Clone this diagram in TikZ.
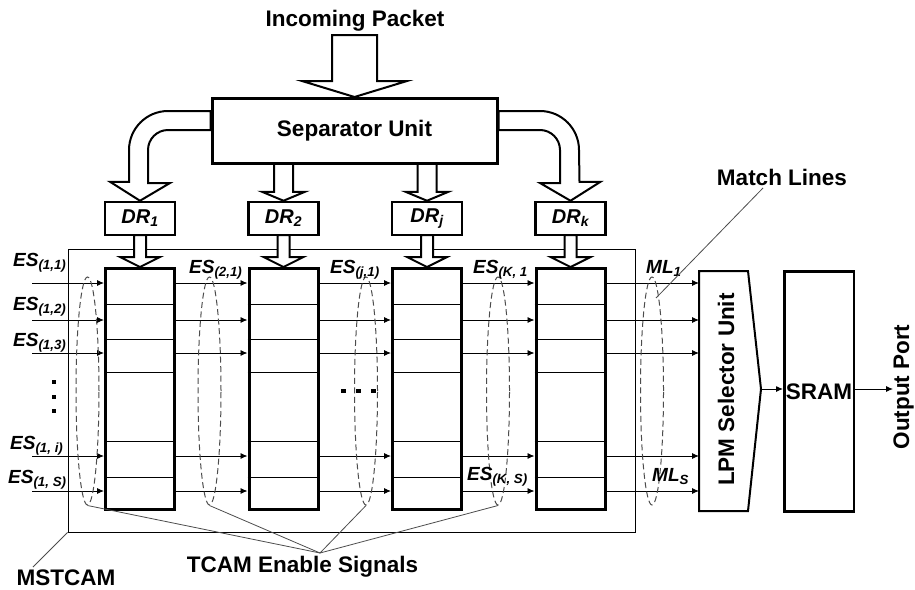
\documentclass[tikz,border=0pt]{standalone}
\usepackage{fontspec}
\setmainfont{Liberation Sans}
\usetikzlibrary{arrows.meta,shapes.geometric}

\tikzset{
  lbl/.style={font=\fontsize{22.5}{27}\selectfont\bfseries, inner sep=0pt},
  idx/.style={font=\fontsize{19}{22}\selectfont\bfseries\itshape, inner sep=0pt, anchor=base west},
  blk/.style={draw, line width=3pt, minimum width=69pt, minimum height=241pt, inner sep=0pt},
  drbox/.style={draw, line width=2.5pt, minimum width=70pt, minimum height=33pt, inner sep=0pt,
    font=\fontsize{20}{24}\selectfont\bfseries\itshape},
  hollow/.style={draw, line width=2pt, fill=white, line join=miter},
  grp/.style={draw=black!70, dash pattern=on 6pt off 3.5pt, line width=1pt, ellipse,
    minimum width=23pt, minimum height=228pt, inner sep=0pt},
  sig/.style={->, line width=0.9pt},
  pointer/.style={draw=black!70, line width=0.8pt}
}

\begin{document}
\begin{tikzpicture}[x=1pt, y=-1pt, >={Latex[length=7pt,width=6pt]}]
\useasboundingbox (0,0) rectangle (915,589);

\node[draw, line width=0.9pt, minimum width=567pt, minimum height=283pt, inner sep=0pt] (mstc) at (351.5,390.5) {};

\node[lbl, anchor=base] (inc) at (355,26) {Incoming Packet};
\node[lbl, draw, line width=3pt, minimum width=285pt, minimum height=65pt] (sep) at (354.5,131) {Separator Unit};

\node[drbox] (dr1) at (140,218.5) {DR\textsubscript{1}};
\node[drbox] (dr2) at (283.5,218.5) {DR\textsubscript{2}};
\node[drbox] (dr3) at (427,218.5) {DR\textsubscript{j}};
\node[drbox] (dr4) at (570.5,218.5) {DR\textsubscript{k}};

\node[blk] (tc1) at (140,389) {};
\node[blk] (tc2) at (283.5,389) {};
\node[blk] (tc3) at (427,389) {};
\node[blk] (tc4) at (570.5,389) {};

\foreach \c in {1,...,4}
  \foreach \r in {304,339,372,441,477}
    \draw[line width=1pt] (tc\c.west |- 0,\r) -- (tc\c.east |- 0,\r);

\draw[hollow] (sep.north) -- ++(-52.5,-16) -- ++(30,0) -- ++(0,-46) -- ++(45,0) -- ++(0,46) -- ++(30,0) -- cycle;
\draw[hollow] (dr2.north) -- ++(-21.5,-9) -- ++(12,0) -- ++(0,-28) -- ++(19,0) -- ++(0,28) -- ++(12,0) -- cycle;
\draw[hollow] (dr3.north) -- ++(-21.5,-9) -- ++(12,0) -- ++(0,-28) -- ++(19,0) -- ++(0,28) -- ++(12,0) -- cycle;
\draw[hollow] (dr1.north) -- ++(-30,-19) -- ++(19,0) -- (129,150) .. controls (129,128.5) and (146.5,111) .. (168,111)
  -- (sep.west |- 0,111) -- (sep.west |- 0,130) -- (168,130) .. controls (157,130) and (148,139) .. (148,150)
  -- (148,183) -- ++(22,0) -- cycle;
\draw[hollow] (dr4.north) -- ++(30,-19) -- ++(-21,0) -- (579,150) .. controls (579,128.5) and (561.5,111) .. (540,111)
  -- (sep.east |- 0,111) -- (sep.east |- 0,130) -- (540,130) .. controls (551,130) and (560,139) .. (560,150)
  -- (560,183) -- ++(-20,0) -- cycle;

\foreach \c in {1,...,4}
  \draw[hollow] (tc\c.north) -- ++(-20,-10) -- ++(14,0) -- ++(0,-22) -- ++(12,0) -- ++(0,22) -- ++(14,0) -- cycle;

\coordinate (src) at (32,0);
\coordinate (lpmnw) at (699,271);
\coordinate (lpmne) at (748,271);
\coordinate (lpmtip) at (761,389);
\coordinate (lpmse) at (748,511);
\coordinate (lpmsw) at (699,511);
\draw[line width=2pt, line join=miter] (lpmnw) -- (lpmne) -- (lpmtip) -- (lpmse) -- (lpmsw) -- cycle;
\node[lbl, rotate=90, anchor=base] (lpm) at (734,389.5) {LPM Selector Unit};

\node[lbl, draw, line width=2.5pt, minimum width=69.5pt, minimum height=240pt] (sram) at (819,391.5) {SRAM};
\node[lbl, rotate=90, anchor=base] (out) at (909,387) {Output Port};
\draw[->, line width=1pt] (lpmtip) -- (sram.west |- lpmtip);
\draw[->, line width=1pt] (sram.east |- lpmtip) -- (out.north |- lpmtip);

\foreach \y in {283,320,353,456,491} {
  \draw[sig] (src |- 0,\y) -- (tc1.west |- 0,\y);
  \draw[sig] (tc1.east |- 0,\y) -- (tc2.west |- 0,\y);
  \draw[sig] (tc2.east |- 0,\y) -- (tc3.west |- 0,\y);
  \draw[sig] (tc3.east |- 0,\y) -- (tc4.west |- 0,\y);
  \draw[sig] (tc4.east |- 0,\y) -- (lpmnw |- 0,\y);
}

\node[grp] (en1) at (87.5,391) {};
\node[grp] (en2) at (209.5,391) {};
\node[grp] (en3) at (366,391) {};
\node[grp] (en4) at (498,391) {};
\node[grp] (en5) at (652,391) {};

\node[idx] (es11) at (13,266) {ES\textsubscript{(1,1)}};
\node[idx] (es12) at (13,310) {ES\textsubscript{(1,2)}};
\node[idx] (es13) at (13,346) {ES\textsubscript{(1,3)}};
\node[idx] (es1i) at (10,449) {ES\textsubscript{(1, i)}};
\node[idx] (es1s) at (8,483) {ES\textsubscript{(1, S)}};
\node[idx] (es21) at (189,273) {ES\textsubscript{(2,1)}};
\node[idx] (esj1) at (330,273) {ES\textsubscript{(j,1)}};
\node[idx] (esk1) at (473,273) {ES\textsubscript{(K, 1}};
\node[idx] (esks) at (467,480) {ES\textsubscript{(K, S)}};
\node[idx] (ml1) at (646,273) {ML\textsubscript{1}};
\node[idx] (mls) at (652,481) {ML\textsubscript{S}};

\foreach \y in {382,396.5,411}
  \fill (52,\y-2) rectangle ++(4,4);
\foreach \x in {343,358,373}
  \fill (\x-2.5,389) rectangle ++(5,4);

\node[lbl, anchor=base] (tes) at (302.5,572) {TCAM Enable Signals};
\coordinate (tesp) at (320,553);
\foreach \i in {1,...,4}
  \draw[pointer] (en\i.south) -- (tesp);

\node[lbl, anchor=base] (mst) at (66,585) {MSTCAM};
\coordinate (mstp) at (33,567);
\draw[pointer] (mstc.south west) -- (mstp);

\node[lbl, anchor=base] (mlt) at (782,185) {Match Lines};
\coordinate (mltp) at (763,188);
\coordinate (mlend) at (656,298);
\draw[pointer] (mltp) -- (mlend);
\end{tikzpicture}
\end{document}
